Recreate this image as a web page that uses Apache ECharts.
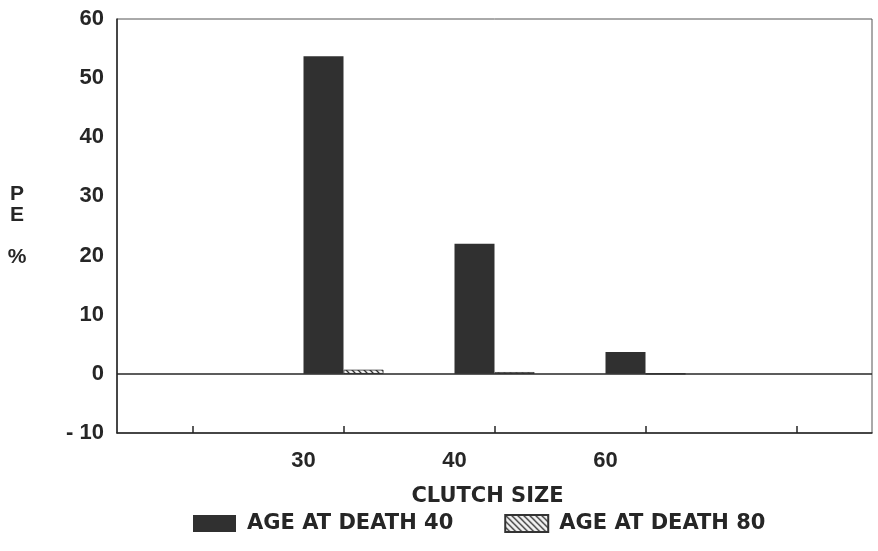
<!DOCTYPE html>
<html>
<head>
<meta charset="utf-8">
<script src="https://cdn.jsdelivr.net/npm/echarts@6/dist/echarts.min.js"></script>
<style>
html,body{margin:0;padding:0;background:#fff;}
#chart{width:878px;height:551px;}
</style>
</head>
<body>
<div id="chart"></div>
<script>
var categories = ['', '30', '40', '60', ''];
var age40 = [null, 53.7, 22.0, 3.7, null];
var age80 = [null, 0.7, 0.3, 0, null];
var yTicks = [-10, 0, 10, 20, 30, 40, 50, 60];

var FONT = '"Liberation Sans", Arial, Helvetica, sans-serif';
var WIDE = '"DejaVu Sans", Verdana, sans-serif';
var INK = '#262626';

function hatch() {
  var c = document.createElement('canvas');
  c.width = 6; c.height = 6;
  var g = c.getContext('2d');
  g.fillStyle = '#f2f2f2';
  g.fillRect(0, 0, 6, 6);
  g.strokeStyle = '#333';
  g.lineWidth = 1.3;
  g.beginPath();
  g.moveTo(-1, -1); g.lineTo(7, 7);
  g.moveTo(-4, 2); g.lineTo(4, 10);
  g.moveTo(2, -4); g.lineTo(10, 4);
  g.stroke();
  return c;
}

var chart = echarts.init(document.getElementById('chart'), null, {renderer: 'canvas'});
chart.setOption({
  animation: false,
  backgroundColor: '#ffffff',
  textStyle: {fontFamily: FONT},
  grid: {
    left: 117, right: 6, top: 19, bottom: 118,
    show: true, borderColor: '#555', borderWidth: 1, backgroundColor: 'transparent'
  },
  legend: {
    left: 193, top: 513, padding: 0,
    itemWidth: 43, itemHeight: 17, itemGap: 51,
    icon: 'rect',
    textStyle: {fontFamily: WIDE, fontSize: 21, fontWeight: 'bold', color: INK, width: 212, padding: [0, 0, 0, 6]},
    data: ['AGE AT DEATH 40', 'AGE AT DEATH 80']
  },
  xAxis: {
    type: 'category',
    data: categories,
    boundaryGap: true,
    name: 'CLUTCH SIZE',
    nameLocation: 'middle',
    nameGap: 53,
    nameTextStyle: {fontFamily: WIDE, fontSize: 21, fontWeight: 'bold', color: INK, padding: [0, 14, 0, 0]},
    axisLine: {onZero: false, lineStyle: {color: INK, width: 1.5}},
    axisTick: {show: true, inside: true, length: 7, alignWithLabel: true, lineStyle: {color: INK, width: 1.5}},
    axisLabel: {fontFamily: FONT, fontSize: 22, fontWeight: 'bold', color: INK, margin: 17, padding: [0, 80, 0, 0], interval: 0},
    splitLine: {show: false}
  },
  yAxis: {
    type: 'value',
    min: -10, max: 60, interval: 10,
    name: 'P\nE\n\n%',
    nameLocation: 'middle',
    nameRotate: 0,
    nameGap: 100,
    nameTextStyle: {fontFamily: FONT, fontSize: 21, fontWeight: 'bold', color: INK, lineHeight: 21, align: 'center'},
    axisLine: {show: true, lineStyle: {color: INK, width: 1.5}},
    axisTick: {show: false},
    axisLabel: {fontFamily: FONT, fontSize: 22, fontWeight: 'bold', color: INK, margin: 13,
      formatter: function (v) { return yTicks.indexOf(v) >= 0 ? String(v).replace('-', '- ') : ''; }},
    splitLine: {show: false}
  },
  series: [
    {
      name: 'AGE AT DEATH 40',
      type: 'bar',
      data: age40,
      barWidth: 40,
      barGap: '0%',
      itemStyle: {color: '#303030'},
      markLine: {
        silent: true, symbol: 'none', label: {show: false},
        lineStyle: {color: INK, width: 1.5, type: 'solid'},
        data: [{yAxis: 0}]
      }
    },
    {
      name: 'AGE AT DEATH 80',
      type: 'bar',
      data: age80,
      barWidth: 40,
      barGap: '0%',
      itemStyle: {color: {image: hatch(), repeat: 'repeat'}, borderColor: '#333', borderWidth: 0.8}
    }
  ]
});
</script>
</body>
</html>
